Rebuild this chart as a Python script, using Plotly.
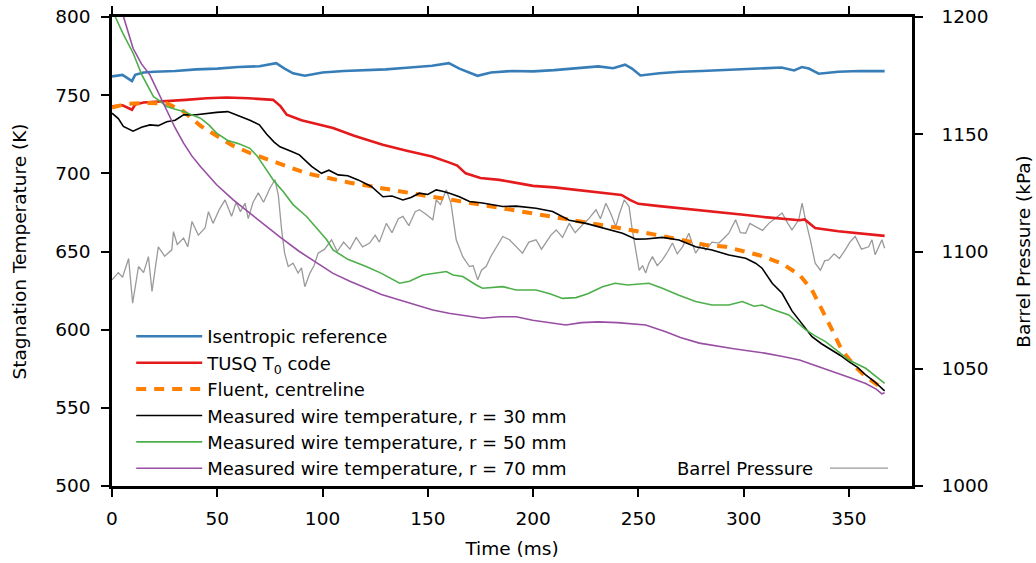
import plotly.graph_objects as go

# ---------------- data ----------------
t_iso = [0, 5, 9.5, 11, 15, 20, 30, 40, 50, 60, 70, 78, 82, 86, 91.6, 100, 110, 120, 130, 140,
         152, 160, 165, 173.6, 180, 190, 200, 210, 220, 231, 238, 243.7, 247, 251, 260, 270, 280,
         290, 300, 310, 318, 324, 327.7, 331, 335.7, 345, 355, 367]
T_iso = [762, 763, 759, 763, 764.5, 765, 765.5, 766.5, 767, 768, 768.5, 770.5, 767, 764, 762.4,
         764.5, 765.5, 765.8, 766.5, 767.5, 768.8, 770.5, 767, 762.4, 764.5, 765.5, 765.2, 766,
         767, 768.4, 767.2, 769.5, 767, 762.6, 764, 765, 765.5, 766, 766.5, 767, 767.7, 765.8,
         768, 767, 763.7, 765, 765.5, 765.4]

t_tusq = [0, 5, 9.5, 11, 15, 25, 35, 45, 54.5, 65, 76.5, 80, 83, 90, 105, 115, 128.6, 140, 152,
          160, 164, 168, 175, 184, 192, 200, 210, 220, 231, 238, 242, 246, 250, 260, 279, 290,
          300, 310, 320, 326.6, 329, 334, 345, 355, 367]
T_tusq = [742.8, 743.5, 740.7, 744, 745.3, 746, 747, 748, 748.5, 748, 747, 743, 737.5, 734, 729,
          724, 718.3, 714.5, 710.8, 707, 705, 700, 697, 695.8, 694, 692, 691, 689.5, 688, 687,
          686.2, 683, 680.5, 679, 676.6, 675, 673.5, 672, 671, 670, 670.5, 665, 663, 661.5, 660]

t_fluent = [0, 7, 15, 26, 34, 42, 49.7, 57, 65.5, 76.5, 92.4, 113, 132, 152, 168, 188.8, 206,
            223, 244, 263, 282, 291.5, 307, 318, 326.6, 332.5, 337, 342, 346.6, 353, 358, 367]
T_fluent = [742, 744.5, 745, 744.8, 739.6, 730.4, 724, 718, 713, 707.6, 700, 694, 689.4, 685,
            681.6, 677, 672.8, 669, 664.3, 659.5, 654.2, 653, 647.8, 642.5, 635, 625.4, 613.7,
            600, 587, 576.3, 570, 561.4]

t_r30 = [0, 3, 5.4, 8, 10, 14, 18, 22, 26, 30, 34, 40, 45, 49.7, 55, 60.8, 65.5, 70, 73.5, 77,
         79.8, 85.3, 89, 94.8, 99.5, 103, 107.4, 112, 116.9, 123.2, 128.7, 133, 138.2, 142, 146,
         150, 154, 157, 160.3, 165, 169.8, 176, 185.6, 192, 201.4, 209.3, 217.2, 225.1, 233,
         242.5, 248.8, 253.5, 261.4, 269.3, 277.2, 285, 293, 301, 305.7, 308.8, 313.6, 318.3,
         323, 326.6, 332.5, 337, 342, 346, 350, 354, 358, 362, 367]
T_r30 = [738.5, 735, 730, 728.5, 727, 729.5, 731, 730.5, 733, 734, 737.4, 737.5, 738.5, 739,
         739.5, 736.4, 734, 731, 725, 720, 717, 714, 711.8, 704.4, 700, 702, 699, 698.5, 695.8,
         691.6, 685, 685.5, 683, 684.5, 687.3, 686.5, 689.4, 688.5, 687.3, 685, 682, 681,
         678.8, 679, 677.7, 675.6, 670, 668, 665, 661.7, 657.9, 658, 659, 657.4, 653, 651,
         647.8, 645.7, 642.5, 639.3, 629.7, 623.3, 612, 606, 595.5, 591, 587, 583.5, 579.6,
         576, 571, 567, 560.8]

t_r50 = [0, 1.6, 5, 10, 14.2, 19.7, 22, 26, 30, 34, 42, 46, 49.7, 55, 60, 65.5, 69, 73.5, 77,
         81.3, 86, 92.4, 97, 102, 105, 112, 121, 128, 136.6, 141.3, 147.7, 154, 158.8, 162,
         166.6, 173, 176, 185.6, 192, 201.4, 208, 214, 220.4, 226, 233, 239, 245, 255, 261.4,
         269.3, 277.2, 285, 293, 299.4, 305, 308.8, 313.6, 321.5, 329.4, 334, 338.9, 345, 350,
         358, 362, 367]
T_r50 = [806, 800, 790, 777, 763, 749, 747, 742.8, 741, 739.6, 735.3, 731, 725.7, 721, 719,
         716, 711, 702, 695, 688.4, 680, 672.4, 665, 657.5, 651, 645, 640.3, 636, 629.7, 631,
         635, 636, 637.2, 635, 634, 628.6, 626.5, 627.5, 625.4, 625.4, 623, 620, 620.5, 623,
         627.5, 629.7, 628.6, 629.7, 626.5, 622, 618, 615.8, 615.8, 618, 615, 615.8, 613,
         609.4, 600, 596, 592.4, 586, 580.6, 575.3, 571, 565.7]

t_r70 = [0, 5.5, 10, 14, 18, 22, 26, 30, 34, 38, 42, 46, 49.7, 57.6, 65.5, 73.5, 80, 89, 97,
         105, 113, 121, 128, 136.6, 144, 152.4, 160, 168, 176, 184, 192, 199.8, 208, 215.6, 223,
         231, 240, 253.5, 263, 270, 279, 287, 294.6, 302, 310, 318, 326.6, 334, 342, 350, 358,
         363, 365.7, 367]
T_r70 = [818, 800, 780, 770, 763, 752, 740.6, 729, 719.3, 711, 704.4, 698, 692.7, 683, 674.5,
         666, 659, 650, 643, 636, 631, 626.5, 622.5, 619, 616, 612.6, 610.5, 608.8, 607.3,
         608.3, 608.3, 606, 604.5, 603, 604.5, 605, 604.5, 603, 598.7, 595, 591.4, 589.5, 588,
         586.5, 585, 583, 580.6, 577, 573, 569.5, 565.6, 562, 559, 559.6]

t_press = [0, 3, 5, 7.9, 9.8, 12.6, 15, 17.3, 19, 22, 25, 28.4, 29.2, 31, 34, 36, 38, 41, 44.2,
           45.8, 48, 51, 53.7, 56.8, 59, 61, 63.2, 64.7, 67, 69.5, 72, 75, 77.4, 79, 80.6, 82,
           83.7, 86, 88.4, 90, 91.6, 94, 96, 97.9, 101, 104.3, 107, 110, 113, 116, 119, 122.4,
           125, 127, 130.3, 133, 136, 138.2, 141, 144, 146, 149, 152.4, 154, 156, 158.8, 161,
           163.5, 166.6, 169.8, 171.5, 173.7, 175.5, 177.7, 180, 182.5, 185.6, 188.8, 192, 195,
           198, 201.4, 204, 206, 208.5, 211, 214, 217.2, 220, 223.5, 226.5, 229.9, 232, 234.6,
           237, 239.3, 241, 243.3, 245.6, 247, 248.8, 250.4, 252, 253.5, 255, 256.7, 259, 261.4,
           264, 266.2, 268.5, 271, 274, 277.2, 280, 282, 285, 288.3, 291, 293, 296.2, 298.5,
           301, 303, 305.7, 309, 312, 315, 318.3, 321, 323, 326.2, 327.8, 329.4, 331.7, 334,
           336.5, 338.5, 340.4, 343, 345.5, 348.3, 350.5, 353, 356, 359.4, 361, 362.5, 364,
           365.7, 367]
P_press = [1087.9, 1091, 1089, 1097, 1078, 1093.6, 1091, 1097.8, 1083, 1102, 1098, 1100.7,
           1108.5, 1103, 1105.7, 1102, 1112.8, 1107, 1110, 1117, 1112, 1118, 1122, 1115, 1121,
           1117, 1120.6, 1114, 1121, 1125, 1121, 1127, 1130.6, 1124, 1109, 1099.3, 1093.6, 1095,
           1090.8, 1093, 1085, 1090.8, 1094, 1099.3, 1101, 1105, 1100, 1104, 1101, 1106, 1102,
           1103.6, 1107, 1104, 1112, 1108, 1114, 1115, 1111, 1117, 1117.8, 1116, 1113.5, 1122,
           1120, 1126.3, 1120.6, 1105, 1097.8, 1093.6, 1094, 1087.9, 1092, 1093.6, 1098, 1102,
           1106.4, 1105, 1102, 1099.3, 1104, 1105, 1101, 1103.6, 1107, 1109.2, 1106, 1112, 1108,
           1111.4, 1114, 1117.8, 1114, 1120.6, 1116, 1110.6, 1116, 1122, 1119.2, 1110, 1100.7,
           1092, 1094, 1090.8, 1095, 1097.8, 1094, 1096.4, 1100, 1103.6, 1099, 1102, 1107.8,
           1099.3, 1103, 1100.7, 1104, 1103.6, 1106, 1107.8, 1113.5, 1108, 1107.8, 1112, 1110.6,
           1109, 1112, 1114, 1116.4, 1112, 1109.2, 1113.5, 1120.6, 1113.5, 1105, 1095, 1092,
           1096, 1096.4, 1099, 1097, 1100.7, 1104, 1106.4, 1101, 1102, 1105, 1098.6, 1102, 1105,
           1101.4]

x_ticks = [0, 50, 100, 150, 200, 250, 300, 350]
T_ticks = [500, 550, 600, 650, 700, 750, 800]
P_ticks = [1000, 1050, 1100, 1150, 1200]

names = ["Isentropic reference", "TUSQ T<sub>0</sub> code", "Fluent, centreline",
         "Measured wire temperature, r = 30 mm", "Measured wire temperature, r = 50 mm",
         "Measured wire temperature, r = 70 mm"]
press_name = "Barrel Pressure"

FONT = "DejaVu Sans, Liberation Sans, Arial, sans-serif"
FS = 18.5
LFS = 18

fig = go.Figure()

# pressure on the primary axis (drawn underneath), right side
fig.add_trace(go.Scatter(x=t_press, y=P_press, mode="lines", name=press_name,
                         line=dict(color="#9a9a9a", width=1.3), yaxis="y",
                         showlegend=False))

series = [
    (t_iso, T_iso, "#377EB8", 2.6, "solid"),
    (t_tusq, T_tusq, "#E41A1C", 2.6, "solid"),
    (t_fluent, T_fluent, "#FF7F00", 4, "dash"),
    (t_r30, T_r30, "#000000", 1.6, "solid"),
    (t_r50, T_r50, "#4DAF4A", 1.6, "solid"),
    (t_r70, T_r70, "#984EA3", 1.6, "solid"),
]
for (tx, ty, col, w, dash), nm in zip(series, names):
    fig.add_trace(go.Scatter(x=tx, y=ty, mode="lines", name=nm, yaxis="y2",
                             line=dict(color=col, width=w,
                                       dash=("10px,8px" if dash == "dash" else "solid"))))

axis_common = dict(showline=True, linecolor="black", linewidth=2.5, ticks="outside",
                   ticklen=8, tickwidth=1.5, tickcolor="black", showgrid=False, zeroline=False,
                   automargin=False, ticklabeloverflow="allow",
                   tickfont=dict(family=FONT, size=FS, color="black"))

fig.update_layout(
    width=1036, height=563, autosize=False,
    margin=dict(l=112, r=124, t=17, b=77),
    plot_bgcolor="white", paper_bgcolor="white",
    font=dict(family=FONT, size=FS, color="black"),
    xaxis=dict(range=[0, 380], tickvals=x_ticks, mirror="ticks",
               title=dict(text="Time (ms)", standoff=15, font=dict(family=FONT, size=FS)),
               ticklabelstandoff=6, **axis_common),
    yaxis=dict(range=[1000, 1200], tickvals=P_ticks, side="right",
               title=dict(text="Barrel Pressure (kPa)", standoff=30, font=dict(family=FONT, size=FS)),
               ticklabelstandoff=15, **axis_common),
    yaxis2=dict(range=[500, 800], tickvals=T_ticks, side="left", overlaying="y",
                title=dict(text="Stagnation Temperature (K)", standoff=24, font=dict(family=FONT, size=FS)),
                ticklabelstandoff=7, **axis_common),
    legend=dict(x=0.024, y=0.358, xanchor="left", yanchor="top", bgcolor="rgba(0,0,0,0)",
                font=dict(family=FONT, size=LFS), itemwidth=66, tracegroupgap=0,
                traceorder="normal"),
    showlegend=True,
)

# separate legend entry for the barrel pressure (text left of the line sample)
fig.add_annotation(xref="paper", yref="paper", x=0.879, y=0.038, xanchor="right",
                   yanchor="middle", text=press_name, showarrow=False,
                   font=dict(family=FONT, size=LFS, color="black"))
fig.add_shape(type="line", xref="paper", yref="paper", x0=0.8975, x1=0.97, y0=0.038, y1=0.038,
              line=dict(color="#9a9a9a", width=1.3))

# remove the default page margin so the 1036x563 figure fills the window exactly
fig.write_html("out.html", config={"displayModeBar": False},
               post_script="document.body.style.margin='0px';")
